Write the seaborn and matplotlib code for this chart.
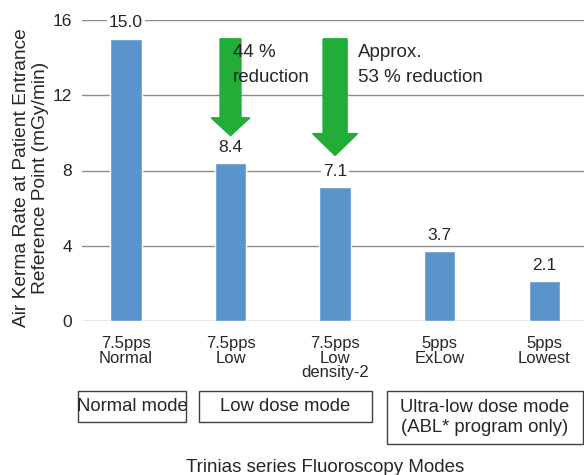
import matplotlib
matplotlib.use("Agg")
import matplotlib.pyplot as plt
import seaborn as sns
import pandas as pd
from matplotlib.patches import Rectangle, FancyArrow

# ===============================
# Data
# ===============================
modes = ["7.5pps\nNormal", "7.5pps\nLow", "7.5pps\nLow\ndensity-2", "5pps\nExLow", "5pps\nLowest"]
air_kerma = [15.0, 8.4, 7.1, 3.7, 2.1]
y_ticks = [0, 4, 8, 12, 16]
group_names = ["Normal mode", "Low dose mode", "Ultra-low dose mode\n(ABL* program only)"]
reduction_texts = ["44 %\nreduction", "Approx.\n53 % reduction"]
reduction_bars = [1, 2]
arrow_tips = [9.85, 8.8]

df = pd.DataFrame({"Mode": modes, "AirKerma": air_kerma})

# ===============================
# Style
# ===============================
sns.set_style("white")
plt.rcParams['font.family'] = ['Liberation Sans', 'DejaVu Sans']

W, H = 584, 475
fig = plt.figure(figsize=(W / 100, H / 100), dpi=100)
# axes in pixel coordinates (left, right, top, bottom)
ax_left, ax_right, ax_top, ax_bottom = 82, 584, 20, 321
ax = fig.add_axes([ax_left / W, 1 - ax_bottom / H, (ax_right - ax_left) / W, (ax_bottom - ax_top) / H])

bar_color = "#5B93CB"
sns.barplot(data=df, x="Mode", y="AirKerma", color=bar_color, width=0.30,
            saturation=1, ax=ax, zorder=3)

ax.set_xlim(-0.42, 4.38)
ax.set_ylim(0, 16)
ax.set_yticks(y_ticks)
ax.set_yticklabels([str(t) for t in y_ticks], fontsize=12.5)
ax.yaxis.grid(True, color="#8c8c8c", linewidth=1.0, zorder=0)
ax.set_axisbelow(True)
for s in ax.spines.values():
    s.set_visible(False)
ax.tick_params(axis="y", length=0, pad=7)
ax.tick_params(axis="x", length=0, pad=11)
ax.set_xticks(range(len(modes)))
ax.set_xticklabels(modes, fontsize=12, linespacing=0.95)
ax.set_xlabel("")
ax.set_ylabel("")

# value labels
for i, v in enumerate(air_kerma):
    ax.annotate(f"{v:.1f}", (i, v), xytext=(0, 6), textcoords="offset points",
                ha="center", va="bottom", fontsize=12.5, zorder=5,
                bbox=dict(facecolor="white", edgecolor="none", pad=1.5))

# reduction arrows and texts
green = "#22AC38"
shaft_w = [0.20, 0.23]
head_w = [0.37, 0.43]
head_l = [0.95, 1.16]
text_dx = [0.02, 0.22]
for k, (bi, tip) in enumerate(zip(reduction_bars, arrow_tips)):
    start = air_kerma[0]
    arr = FancyArrow(bi, start, 0, tip - start, width=shaft_w[k], head_width=head_w[k],
                     head_length=head_l[k], length_includes_head=True,
                     color=green, zorder=4)
    ax.add_patch(arr)
    ax.text(bi + text_dx[k], 14.7, reduction_texts[k], ha="left", va="top",
            fontsize=13.5, linespacing=1.55, zorder=5)

# y label
fig.text(31 / W, 1 - 178 / H, "Air Kerma Rate at Patient Entrance\nReference Point (mGy/min)",
         rotation=90, ha="center", va="center", fontsize=13.8, linespacing=1.2)

# group boxes (pixel coordinates)
boxes = [(78, 391, 186, 422), (199, 391, 372, 422), (387, 391, 583, 444)]
for (x0, y0, x1, y1), name in zip(boxes, group_names):
    rect = Rectangle((x0 / W, 1 - y1 / H), (x1 - x0) / W, (y1 - y0) / H,
                     transform=fig.transFigure, fill=False, edgecolor="#404040", linewidth=1.0)
    fig.add_artist(rect)
    fig.text((x0 + x1) / 2 / W, 1 - (y0 + y1) / 2 / H, name, ha="center", va="center",
             fontsize=13.3, linespacing=1.3)

# x label
fig.text(325 / W, 1 - 468 / H, "Trinias series Fluoroscopy Modes", ha="center", va="center",
         fontsize=13.5)

fig.savefig("out.png", dpi=100)
